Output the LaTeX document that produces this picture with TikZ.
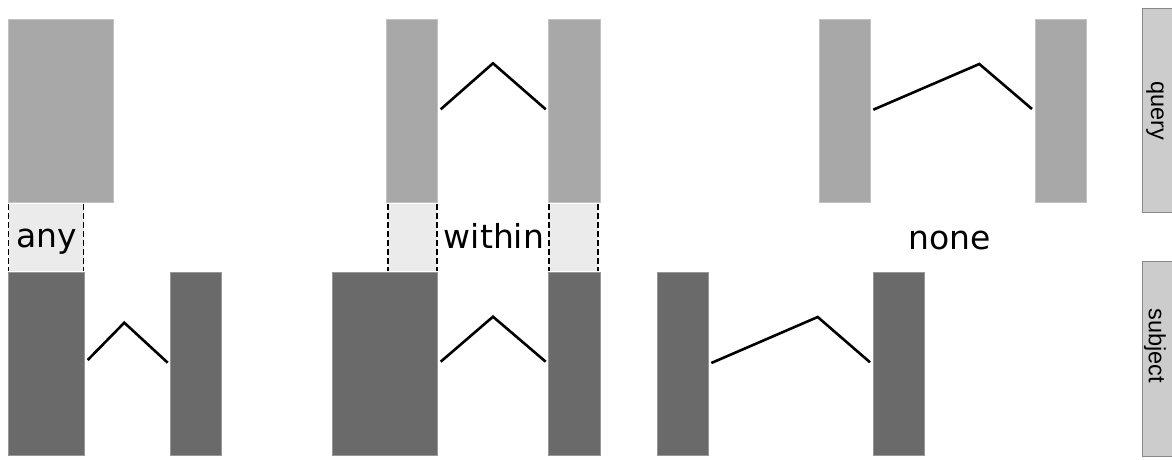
\documentclass[tikz,border=0pt]{standalone}
\usepackage{fontspec}
\setmainfont{DejaVu Sans}
\newfontfamily\labelfont{Liberation Sans}
\definecolor{qcol}{HTML}{A8A8A8}
\definecolor{scol}{HTML}{6A6A6A}
\definecolor{dcol}{HTML}{EBEBEB}
\definecolor{lcol}{HTML}{CCCCCC}
\definecolor{lbord}{HTML}{888888}
\begin{document}
\begin{tikzpicture}[x=1pt,y=-1pt,
  base/.style={rectangle, inner sep=0pt, outer sep=0pt, anchor=north west},
  qbox/.style={base, fill=qcol, draw=qcol!70!white, line width=0.8pt},
  sbox/.style={base, fill=scol, draw=scol!70!white, line width=0.8pt},
  dbox/.style={base, fill=dcol},
  dashedge/.style={draw=black, line width=1.8pt, dash pattern=on 6pt off 3pt},
  chain/.style={draw=black, line width=2.6pt},
  word/.style={font=\fontsize{33}{38}\selectfont, inner sep=0pt, anchor=base},
  side/.style={base, fill=lcol, draw=lbord, line width=1pt},
  sidetext/.style={font=\labelfont\fontsize{23.5}{27}\selectfont, rotate=-90, inner sep=0pt}]
\useasboundingbox (0,0) rectangle (1172,459);
\fill[white] (0,0) rectangle (1172,459);

% ---------- panel 1: any ----------
\node[qbox, minimum width=105pt, minimum height=183pt] (q1) at (8.5,19) {};
\node[dbox, minimum width=75pt, minimum height=67pt] (d1) at (8.5,204) {};
\draw[dashedge] (d1.north west) -- (d1.south west);
\draw[dashedge] (d1.north east) -- (d1.south east);
\node[word] (any) at (47,247) {any};
\node[sbox, minimum width=75.5pt, minimum height=183pt] (s1a) at (8.5,272) {};
\node[sbox, minimum width=50.5pt, minimum height=183pt] (s1b) at (170.7,272) {};
\coordinate (z1a) at (87.7,360);
\coordinate (z1b) at (124.3,322.7);
\coordinate (z1c) at (167.7,362.7);
\draw[chain] (z1a) -- (z1b) -- (z1c);

% ---------- panel 2: within ----------
\node[qbox, minimum width=51pt, minimum height=183pt] (q2a) at (386.7,19) {};
\node[qbox, minimum width=51.3pt, minimum height=183pt] (q2b) at (548.7,19) {};
\coordinate (z2a) at (440.7,109.3);
\coordinate (z2b) at (493,63.3);
\coordinate (z2c) at (545.7,109.3);
\draw[chain] (z2a) -- (z2b) -- (z2c);
\node[dbox, minimum width=49pt, minimum height=67pt] (d2a) at (388,204) {};
\draw[dashedge] (d2a.north west) -- (d2a.south west);
\draw[dashedge] (d2a.north east) -- (d2a.south east);
\node[dbox, minimum width=49pt, minimum height=67pt] (d2b) at (548.7,204) {};
\draw[dashedge] (d2b.north west) -- (d2b.south west);
\draw[dashedge] (d2b.north east) -- (d2b.south east);
\node[word] (within) at (494,248) {within};
\node[sbox, minimum width=105pt, minimum height=183pt] (s2a) at (332.7,272) {};
\node[sbox, minimum width=51.3pt, minimum height=183pt] (s2b) at (548.7,272) {};
\coordinate (z2d) at (440.7,361.7);
\coordinate (z2e) at (493,316.7);
\coordinate (z2f) at (545.7,361.7);
\draw[chain] (z2d) -- (z2e) -- (z2f);

% ---------- panel 3: none ----------
\node[qbox, minimum width=51pt, minimum height=183pt] (q3a) at (819,19) {};
\node[qbox, minimum width=51pt, minimum height=183pt] (q3b) at (1035.3,19) {};
\coordinate (z3a) at (873.3,109.7);
\coordinate (z3b) at (979.3,64);
\coordinate (z3c) at (1032,109);
\draw[chain] (z3a) -- (z3b) -- (z3c);
\node[word] (none) at (950,249) {none};
\node[sbox, minimum width=51pt, minimum height=183pt] (s3a) at (657,272) {};
\node[sbox, minimum width=50.7pt, minimum height=183pt] (s3b) at (873.3,272) {};
\coordinate (z3d) at (711.3,363);
\coordinate (z3e) at (817.7,317);
\coordinate (z3f) at (870,362.3);
\draw[chain] (z3d) -- (z3e) -- (z3f);

% ---------- side labels ----------
\begin{scope}
\clip (0,0) rectangle (1172,459);
\node[side, minimum width=40pt, minimum height=203.5pt] (lq) at (1142.3,8.5) {};
\node[side, minimum width=40pt, minimum height=195pt] (ls) at (1142.3,261.7) {};
\end{scope}
\node[sidetext] (tq) at (1155,110.5) {query};
\node[sidetext] (ts) at (1155,346) {subject};
\end{tikzpicture}
\end{document}
